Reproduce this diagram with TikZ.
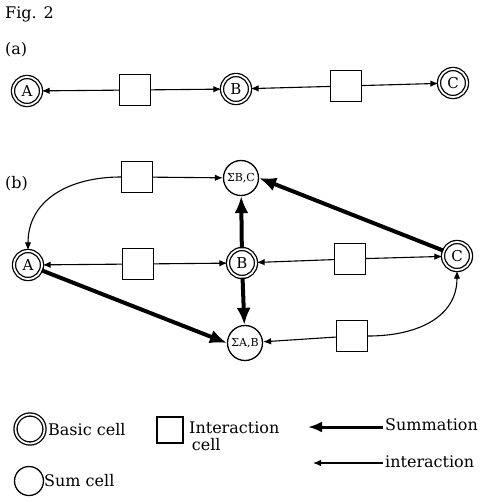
\documentclass[tikz,border=0pt]{standalone}
\usepackage{fontspec}
\setmainfont{DejaVu Serif}
\usetikzlibrary{arrows.meta}
\begin{document}
\begin{tikzpicture}[x=1pt,y=-1pt,
  basic/.style={circle,draw,double,double distance=1.8pt,line width=1.3pt,
    minimum size=28pt,inner sep=0pt,font=\fontsize{15}{15}\selectfont},
  sumcell/.style={circle,draw,line width=1.3pt,minimum size=35pt,inner sep=0pt,
    font=\fontsize{11}{11}\selectfont},
  icell/.style={rectangle,draw,line width=1.4pt,minimum size=31pt,inner sep=0pt},
  inter/.style={line width=1.1pt,-{Latex[length=8pt,width=6.5pt]}},
  summ/.style={line width=4pt,-{Latex[length=17pt,width=14pt]}},
  lbl/.style={font=\fontsize{16}{17}\selectfont,anchor=west,inner sep=0pt,align=left}]
\useasboundingbox[fill=white] (0,0) rectangle (484,503);

% titles
\node[lbl] (fig) at (5,14) {Fig. 2};
\node[lbl] (la) at (5,50) {(a)};
\node[lbl] (lb) at (5,184) {(b)};

% (a) chain A - B - C
\node[basic] (aA) at (27,91) {A};
\node[icell] (aq1) at (135,90) {};
\node[basic] (aB) at (236,89) {B};
\node[icell] (aq2) at (346,86) {};
\node[basic] (aC) at (453,83) {C};
\draw[inter] (aq1) -- (aA);
\draw[inter] (aq1) -- (aB);
\draw[inter] (aq2) -- (aB);
\draw[inter] (aq2) -- (aC);

% (b) network with sum cells
\node[basic] (A) at (28,265) {A};
\node[basic] (B) at (242,263) {B};
\node[basic] (C) at (457,256) {C};
\node[sumcell] (sbc) at (241,178) {ΣB,C};
\node[sumcell] (sab) at (245,343) {ΣA,B};
\node[icell] (q1) at (137,177) {};
\node[icell] (q2) at (138,264) {};
\node[icell] (q3) at (350,259) {};
\node[icell] (q4) at (352,336) {};

\draw[inter] (q1) -- (sbc);
\draw[inter] (q1.west) to[out=180,in=90,looseness=1.1] (A.north);
\draw[inter] (q2) -- (A);
\draw[inter] (q2) -- (B);
\draw[inter] (q3) -- (B);
\draw[inter] (q3) -- (C);
\draw[inter] (q4) -- (sab);
\draw[inter] (q4.east) to[out=0,in=-90,looseness=1.1] (C.south);

\draw[summ] (B) -- (sbc);
\draw[summ] (B) -- (sab);
\draw[summ] (C) -- (sbc.east);
\draw[summ] (A) -- (sab.west);

% legend
\node[basic,minimum size=29pt] (kb) at (30,429) {};
\node[lbl] (kbt) at (48,430) {Basic cell};
\node[sumcell,minimum size=29pt] (ks) at (29,481) {};
\node[lbl] (kst) at (44,481) {Sum cell};
\node[icell,minimum size=26pt] (ki) at (170,430) {};
\node[lbl] (kit) at (189,436) {Interaction\\\,cell};
\coordinate (s0) at (383,427);
\coordinate (s1) at (308,427);
\draw[line width=3pt,-{Latex[length=14pt,width=11pt]}] (s0) -- (s1);
\node[lbl] (kmt) at (385,425) {Summation};
\coordinate (i0) at (383,463);
\coordinate (i1) at (313,463);
\draw[inter] (i0) -- (i1);
\node[lbl] (kint) at (385,462) {interaction};
\end{tikzpicture}
\end{document}
